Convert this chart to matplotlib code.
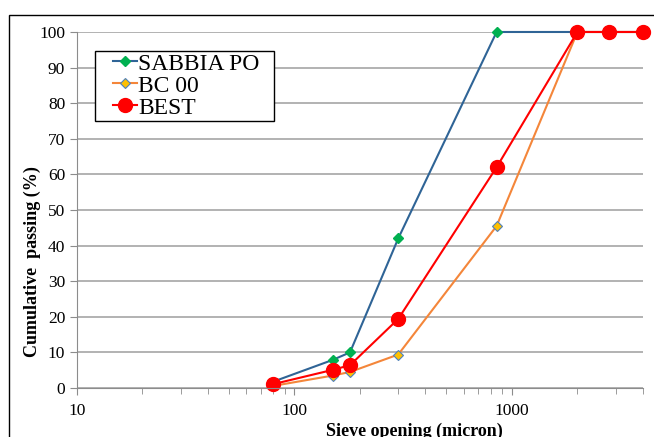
import numpy as np
import matplotlib
matplotlib.use("Agg")
import matplotlib.pyplot as plt
from matplotlib.patches import Rectangle
from matplotlib.legend_handler import HandlerLine2D
from matplotlib.ticker import FixedLocator, FixedFormatter, LogLocator, NullFormatter

# sieve openings (micron) and cumulative passing (%)
sieve = [80, 150, 180, 300, 850, 2000, 2800, 4000]
sabbia_po = [1.8, 7.9, 10.0, 42.0, 100, 100, 100, 100]
bc_00 = [0.6, 3.5, 4.5, 9.4, 45.5, 100, 100, 100]
best = [1.1, 5.1, 6.4, 19.4, 62.0, 100, 100, 100]

y_ticks = list(range(0, 101, 10))
x_ticks = [10, 100, 1000]
x_labels = ["10", "100", "1000"]

plt.rcParams['font.family'] = ['Liberation Serif', 'DejaVu Serif']

fig = plt.figure(figsize=(6.54, 4.37), dpi=100)
ax = fig.add_axes([0.1177, 0.1121, 0.8653, 0.8147])

l1, = ax.plot(sieve, sabbia_po, color='#2F6496', lw=1.5, marker='D', markersize=5,
              markerfacecolor='#00B050', markeredgecolor='#00B050', label='SABBIA PO  ',
              clip_on=False)
l2, = ax.plot(sieve, bc_00, color='#F4863A', lw=1.5, marker='D', markersize=5.5,
              markerfacecolor='#FFC000', markeredgecolor='#4F81BD', markeredgewidth=0.8,
              label='BC 00', clip_on=False)
l3, = ax.plot(sieve, best, color='#FF0000', lw=1.5, marker='o', markersize=10,
              markerfacecolor='#FF0000', markeredgecolor='#FF0000', label='BEST',
              clip_on=False)

ax.set_xscale('log')
ax.set_xlim(10, 4000)
ax.set_ylim(0, 100)
ax.xaxis.set_major_locator(FixedLocator(x_ticks))
ax.xaxis.set_major_formatter(FixedFormatter(x_labels))
ax.xaxis.set_minor_locator(LogLocator(base=10, subs=np.arange(2, 10)))
ax.xaxis.set_minor_formatter(NullFormatter())
ax.set_yticks(y_ticks)

ax.yaxis.grid(True, color='#A6A6A6', lw=1.2)
ax.set_axisbelow(True)
for s in ['top', 'right']:
    ax.spines[s].set_visible(False)
for s in ['left', 'bottom']:
    ax.spines[s].set_color('#8C8C8C')
ax.tick_params(axis='both', which='both', color='#8C8C8C', direction='out', labelsize=12.5)
ax.tick_params(axis='y', length=5)
ax.tick_params(axis='x', which='major', length=5, pad=6)
ax.tick_params(axis='x', which='minor', length=4)

ax.set_xlabel('Sieve opening (micron)', fontsize=13, fontweight='bold', va='top')
ax.set_ylabel('Cumulative  passing (%)', fontsize=13, fontweight='bold')
ax.xaxis.set_label_coords(0.597, -0.098)
ax.yaxis.set_label_coords(-0.064, 0.354)

hmap = {l: HandlerLine2D(xpad=0.66) for l in (l1, l2, l3)}
leg = ax.legend(handles=[l1, l2, l3], handler_map=hmap, loc='upper left',
                bbox_to_anchor=(0.032, 0.947), fontsize=17,
                frameon=True, fancybox=False, edgecolor='black', framealpha=1,
                borderpad=0.1, labelspacing=0.02, handlelength=1.68, handletextpad=0.05,
                borderaxespad=0)
leg.get_frame().set_linewidth(1.0)

# outer chart frame
fig.add_artist(Rectangle((9 / 654, -0.2), 1.5, 0.2 + 1 - 15 / 437, fill=False,
                         edgecolor='black', lw=1.0, transform=fig.transFigure))

fig.savefig('out.png', dpi=100)
